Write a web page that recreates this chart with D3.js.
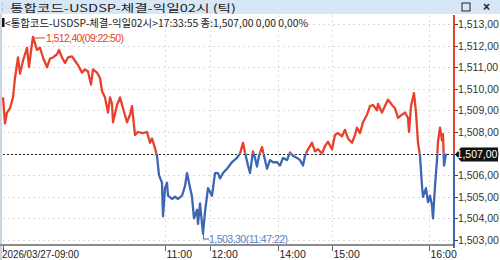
<!DOCTYPE html>
<html>
<head>
<meta charset="utf-8">
<script src="https://cdn.jsdelivr.net/npm/d3@7"></script>
<style>
  body { margin: 0; background: #fff; }
  svg { display: block; font-family: "Liberation Sans", Arial, sans-serif; }
</style>
</head>
<body>
<svg id="chart" width="500" height="260"></svg>
<script>
// tick sequence number (x) and trade price (y)
const tickNo = [
  3, 5, 7, 10, 13, 15, 18, 20, 23, 27,
  29, 32, 33, 37, 40, 43, 47, 50, 53, 57,
  59, 62, 65, 68, 72, 75, 78, 82, 85, 88,
  91, 93, 97, 100, 102, 105, 108, 110, 112, 113,
  117, 120, 123, 127, 130, 132, 135, 138, 143, 147,
  150, 152, 155, 157, 159, 162, 163, 165, 167, 168,
  172, 175, 178, 182, 185, 187, 189, 192, 194, 197,
  198, 200, 203, 205, 208, 212, 215, 218, 220, 223,
  227, 232, 237, 240, 243, 245, 248, 250, 253, 255,
  257, 259, 262, 265, 267, 270, 273, 277, 280, 283,
  287, 290, 293, 297, 300, 303, 305, 308, 312, 315,
  318, 322, 325, 328, 332, 335, 338, 342, 345, 348,
  352, 355, 357, 360, 363, 367, 370, 373, 377, 378,
  382, 385, 388, 392, 395, 398, 402, 405, 408, 409,
  411, 414, 416, 418, 420, 422, 423, 426, 428, 430,
  432, 433, 435, 437, 438, 440, 442, 443, 444, 446
]
const price = [
  1509.6, 1508.4, 1508.9, 1509.1, 1509.6, 1510.5, 1511.45, 1510.7, 1511.3, 1511.9,
  1511.0, 1512.1, 1512.4, 1511.8, 1511.9, 1511.45, 1511.0, 1511.4, 1511.45, 1511.6,
  1511.8, 1511.45, 1511.2, 1511.45, 1511.5, 1511.3, 1511.1, 1510.75, 1510.9, 1510.8,
  1510.2, 1510.9, 1510.75, 1510.5, 1509.9, 1509.6, 1508.9, 1509.6, 1509.3, 1508.45,
  1509.25, 1509.6, 1509.1, 1508.45, 1508.8, 1509.2, 1507.86, 1508.0, 1507.95, 1508.0,
  1507.5, 1507.7, 1507.25, 1506.9, 1506.0, 1505.65, 1504.1, 1505.4, 1505.65, 1505.05,
  1504.9, 1505.0, 1504.9, 1505.05, 1505.5, 1506.1, 1505.65, 1505.0, 1504.0, 1504.4,
  1503.75, 1504.7, 1503.3, 1504.3, 1505.4, 1505.05, 1506.1, 1506.1, 1505.85, 1506.1,
  1506.3, 1506.6, 1506.8, 1507.0, 1507.5, 1507.05, 1506.45, 1506.1, 1507.1, 1506.8,
  1506.4, 1506.9, 1507.3, 1506.7, 1506.3, 1506.7, 1506.6, 1506.6, 1506.45, 1506.8,
  1506.7, 1507.05, 1506.9, 1506.8, 1506.7, 1506.45, 1506.9, 1507.2, 1507.5, 1507.1,
  1507.2, 1507.0, 1507.35, 1507.55, 1507.2, 1507.86, 1507.95, 1507.8, 1508.1, 1507.7,
  1507.5, 1507.86, 1508.2, 1507.95, 1508.45, 1508.8, 1509.2, 1509.25, 1509.0, 1509.3,
  1508.9, 1509.2, 1509.5, 1509.25, 1509.1, 1508.65, 1508.8, 1508.9, 1508.65, 1508.0,
  1509.2, 1509.8, 1508.9, 1507.5, 1506.9, 1505.5, 1505.0, 1505.4, 1504.75, 1505.05,
  1504.6, 1504.0, 1505.5, 1506.7, 1507.55, 1508.2, 1507.6, 1507.9, 1506.45, 1507.0
]

const timeTickNo = [3, 165, 210, 278, 332, 429]
const timeLabels = ['2026/03/27-09:00', '11:00', '12:00', '14:00', '15:00', '16:00']
const priceTicks = d3.range(1503, 1514)

const basePrice = 1507.0
const title = '통합코드-USDSP-체결-익일02시 (틱)'
const infoText = '<통합코드-USDSP-체결-익일02시>17:33:55 종:1,507,00 0,00 0,00%'
const maxInfo = { no: 33, price: 1512.4, time: '09:22:50' }
const minInfo = { no: 203, price: 1503.3, time: '11:47:22' }

const RED = '#e8402b', BLUE = '#3d66b3'

drawChart()

function drawChart() {
  const svg = d3.select('#chart')
  const left = 3, right = 454, top = 15, bottom = 244

  const x = d3.scaleLinear().domain([3, 453]).range([left, right - 1])
  const y = d3.scaleLinear().domain([1503, 1513]).range([240, 24])

  const fmt = (v) => d3.format(',.2f')(v).replace('.', ',')

  // horizontal grid
  svg.append('g')
    .selectAll('line')
    .data(priceTicks)
    .join('line')
    .attr('x1', left).attr('x2', right)
    .attr('y1', (d) => Math.round(y(d)) + 0.5).attr('y2', (d) => Math.round(y(d)) + 0.5)
    .attr('stroke', '#dcdcdc').attr('stroke-dasharray', '2,3')

  // vertical grid
  svg.append('g')
    .selectAll('line')
    .data(timeTickNo.slice(1))
    .join('line')
    .attr('x1', (d) => Math.round(x(d)) + 0.5).attr('x2', (d) => Math.round(x(d)) + 0.5)
    .attr('y1', top).attr('y2', bottom)
    .attr('stroke', '#dcdcdc').attr('stroke-dasharray', '2,3')

  // title bar
  svg.append('rect').attr('x', 0).attr('y', 0).attr('width', 500).attr('height', 14).attr('fill', '#d8e7f5')
  svg.append('text').attr('x', 1).attr('y', 11).attr('fill', '#9ab').attr('font-size', 10).text('⁞')
  svg.append('text')
    .attr('x', 10).attr('y', 12)
    .attr('font-family', '"Noto Sans CJK KR", sans-serif')
    .attr('font-size', 10.5).attr('fill', '#222')
    .attr('textLength', 226).attr('lengthAdjust', 'spacingAndGlyphs')
    .text(title)
  svg.append('rect').attr('x', 462).attr('y', 3).attr('width', 8).attr('height', 8)
    .attr('fill', 'none').attr('stroke', '#222')
  svg.append('text').attr('x', 483).attr('y', 11).attr('font-size', 12).attr('font-weight', 'bold')
    .attr('fill', '#222').text('×')

  // left border
  svg.append('line').attr('x1', 1).attr('x2', 1).attr('y1', 14).attr('y2', 260)
    .attr('stroke', '#c8d4e0').attr('stroke-width', 2)

  // base price dashed line
  svg.append('line')
    .attr('x1', left).attr('x2', right)
    .attr('y1', Math.round(y(basePrice)) + 0.5).attr('y2', Math.round(y(basePrice)) + 0.5)
    .attr('stroke', '#222').attr('stroke-dasharray', '2,2')

  // price line, red above base and blue below
  const line = d3.line()
    .x((d, i) => x(tickNo[i]))
    .y((d) => y(d))

  const defs = svg.append('defs')
  defs.append('clipPath').attr('id', 'above')
    .append('rect').attr('x', 0).attr('y', 0).attr('width', 500).attr('height', y(basePrice))
  defs.append('clipPath').attr('id', 'below')
    .append('rect').attr('x', 0).attr('y', y(basePrice)).attr('width', 500).attr('height', 260)

  ;[['above', RED], ['below', BLUE]].forEach(([id, c]) => {
    svg.append('path')
      .datum(price)
      .attr('clip-path', `url(#${id})`)
      .attr('fill', 'none')
      .attr('stroke', c)
      .attr('stroke-width', 2.3)
      .attr('stroke-linejoin', 'round')
      .attr('d', line)
  })

  // info line
  svg.append('rect').attr('x', 2).attr('y', 18).attr('width', 2.5).attr('height', 9).attr('fill', '#111')
  svg.append('text')
    .attr('x', 5).attr('y', 26.5)
    .attr('font-family', '"Noto Sans CJK KR", sans-serif')
    .attr('font-size', 10.5).attr('fill', '#222')
    .attr('textLength', 303).attr('lengthAdjust', 'spacingAndGlyphs')
    .text(infoText)

  // max / min labels
  const mx = x(maxInfo.no), my = y(maxInfo.price)
  svg.append('line').attr('x1', mx + 1).attr('x2', mx + 12).attr('y1', my + 1).attr('y2', my + 1)
    .attr('stroke', RED)
  svg.append('text').attr('x', mx + 13).attr('y', my + 5)
    .attr('font-size', 10.5).attr('fill', RED)
    .attr('textLength', 78).attr('lengthAdjust', 'spacing')
    .text(`${fmt(maxInfo.price)}(${maxInfo.time})`)

  const nx = x(minInfo.no), ny = y(minInfo.price)
  svg.append('path')
    .attr('d', `M${nx + 0.5},${ny} V${ny + 5.5} H${nx + 6}`)
    .attr('fill', 'none').attr('stroke', BLUE)
  svg.append('text').attr('x', nx + 6).attr('y', ny + 9)
    .attr('font-size', 10.5).attr('fill', '#5b7fc0')
    .attr('textLength', 79).attr('lengthAdjust', 'spacing')
    .text(`${fmt(minInfo.price)}(${minInfo.time})`)

  // bottom axis
  svg.append('line').attr('x1', 0).attr('x2', right).attr('y1', bottom + 1).attr('y2', bottom + 1)
    .attr('stroke', '#8c8c8c').attr('stroke-width', 2)
  const xt = svg.append('g')
    .selectAll('g')
    .data(timeTickNo)
    .join('g')
    .attr('transform', (d) => `translate(${Math.round(x(d)) + 0.5},${bottom + 2})`)
  xt.append('line').attr('y1', 0).attr('y2', 5).attr('stroke', '#666')
  xt.append('text')
    .attr('x', (d, i) => (i === 0 ? -1.5 : 1))
    .attr('y', 12)
    .attr('font-size', 10.5).attr('fill', '#222')
    .each(function (d, i) {
      if (i === 0) d3.select(this).attr('textLength', 77).attr('lengthAdjust', 'spacingAndGlyphs')
    })
    .text((d, i) => timeLabels[i])

  // right axis
  svg.append('line').attr('x1', right).attr('x2', right).attr('y1', top).attr('y2', y(basePrice))
    .attr('stroke', RED).attr('stroke-width', 2)
  svg.append('line').attr('x1', right).attr('x2', right).attr('y1', y(basePrice)).attr('y2', 248)
    .attr('stroke', BLUE).attr('stroke-width', 2)
  const yt = svg.append('g')
    .selectAll('g')
    .data(priceTicks)
    .join('g')
    .attr('transform', (d) => `translate(${right + 1},${Math.round(y(d)) + 0.5})`)
  yt.append('line').attr('x1', 0).attr('x2', 3).attr('stroke', '#444')
  yt.append('text')
    .attr('x', 3).attr('dy', '0.35em')
    .attr('font-size', 10.5).attr('fill', '#333')
    .text((d) => fmt(d))

  // current price marker
  const cy = Math.round(y(basePrice)) + 0.5
  svg.append('path')
    .attr('d', `M${right + 1},${cy} L${right + 7},${cy - 7} H498 V${cy + 7} H${right + 7} Z`)
    .attr('fill', '#111')
  svg.append('text')
    .attr('x', 477).attr('y', cy).attr('dy', '0.35em')
    .attr('text-anchor', 'middle')
    .attr('font-size', 10.5).attr('fill', '#fff')
    .text(fmt(basePrice))
}
</script>
</body>
</html>
